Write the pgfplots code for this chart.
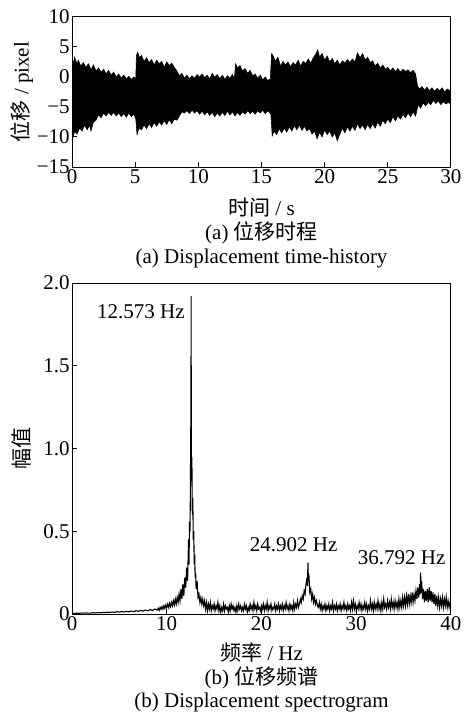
\documentclass[border=0pt]{standalone}
\usepackage{fontspec}
\setmainfont{Liberation Serif}
\newfontfamily\cjk{Noto Sans CJK SC}
\usepackage{pgfplots}
\pgfplotsset{compat=1.18}
\pgfplotstableread{
t y
0 3.5
0.1 2.0
0.2 3.3
0.4 2.2
0.5 2.8
0.7 1.8
0.9 2.4
1.1 1.6
1.3 2.2
1.5 1.2
1.7 2.0
1.9 1.0
2.1 1.5
2.3 0.8
2.5 1.3
2.7 0.5
2.9 1.1
3.1 0.3
3.3 0.8
3.5 0.0
3.7 0.5
3.9 -0.2
4.1 0.3
4.3 -0.3
4.5 0.1
4.7 -0.4
4.9 0.0
5.05 -0.3
5.1 3.6
5.2 4.1
5.35 3.2
5.5 3.6
5.7 2.6
5.9 3.2
6.1 2.4
6.3 2.9
6.5 2.0
6.7 2.8
6.9 2.2
7.1 2.6
7.3 1.6
7.5 2.5
7.7 1.9
7.9 2.3
8.1 1.6
8.3 1.0
8.5 0.2
8.7 0.6
8.9 -0.2
9.1 0.3
9.3 -0.3
9.5 0.2
9.7 -0.2
9.9 0.4
10.1 0.0
10.3 0.5
10.5 -0.1
10.7 0.3
10.9 -0.3
11.1 0.6
11.3 0.0
11.5 0.4
11.7 -0.3
11.9 0.3
12.1 -0.4
12.3 0.2
12.5 -0.2
12.7 0.4
12.85 -0.3
12.95 2.2
13.1 1.5
13.3 1.9
13.5 1.0
13.7 1.4
13.9 0.6
14.1 1.1
14.3 0.2
14.5 0.5
14.7 -0.2
14.9 0.3
15.1 -0.5
15.3 0.0
15.5 -0.6
15.7 -0.3
15.8 3.9
15.95 3.4
16.1 2.6
16.3 3.3
16.5 1.8
16.7 2.6
16.9 2.0
17.1 2.5
17.3 1.7
17.5 2.4
17.7 2.0
17.9 2.8
18.1 1.8
18.3 2.6
18.5 2.2
18.7 3.0
18.9 2.3
19.1 3.2
19.3 3.8
19.45 4.5
19.6 3.3
19.8 3.9
20.0 2.8
20.2 3.5
20.4 2.5
20.6 3.1
20.8 2.2
21.0 2.8
21.2 2.0
21.4 2.7
21.6 2.3
21.8 2.9
22.0 2.4
22.2 3.0
22.4 2.5
22.6 4.0
22.8 3.2
23.0 3.9
23.2 2.8
23.4 3.3
23.6 2.4
23.8 2.7
24.0 1.8
24.2 2.3
24.4 1.5
24.6 2.0
24.8 1.3
25.0 1.6
25.2 1.0
25.4 1.5
25.6 0.9
25.8 1.4
26.0 0.8
26.2 1.3
26.4 0.9
26.6 1.2
26.8 0.7
27.0 1.1
27.2 0.5
27.35 -1.5
27.5 -2.0
27.7 -1.6
27.9 -2.2
28.1 -1.7
28.3 -2.3
28.5 -1.8
28.7 -2.4
28.9 -1.9
29.1 -2.3
29.3 -1.8
29.5 -2.5
29.7 -2.0
29.9 -2.3
30 -2.6
30 -4.6
29.8 -4.2
29.6 -4.5
29.4 -4.1
29.2 -4.6
29.0 -4.0
28.8 -4.4
28.6 -3.9
28.4 -4.6
28.2 -4.2
28.0 -4.8
27.8 -4.3
27.6 -5.2
27.4 -4.6
27.2 -6.5
27.0 -5.8
26.8 -6.6
26.6 -6.0
26.4 -6.8
26.2 -6.2
26.0 -7.0
25.8 -6.5
25.6 -7.3
25.4 -6.6
25.2 -7.6
25.0 -7.0
24.8 -7.8
24.6 -7.2
24.4 -8.2
24.2 -7.5
24.0 -8.5
23.8 -7.8
23.6 -8.6
23.4 -7.9
23.2 -8.8
23.0 -8.0
22.8 -8.6
22.6 -7.8
22.4 -8.9
22.2 -8.2
22.0 -9.0
21.8 -8.3
21.6 -9.3
21.4 -8.5
21.2 -9.5
21.0 -10.6
20.8 -9.3
20.6 -10.0
20.4 -9.0
20.2 -9.6
20.0 -8.8
19.8 -10.0
19.6 -9.2
19.4 -10.3
19.2 -9.0
19.0 -9.5
18.8 -8.6
18.6 -9.0
18.4 -8.2
18.2 -8.9
18.0 -8.0
17.8 -8.8
17.6 -8.1
17.4 -9.0
17.2 -8.3
17.0 -9.2
16.8 -8.5
16.6 -9.3
16.4 -8.6
16.2 -9.6
16.0 -9.0
15.85 -9.8
15.75 -6.2
15.5 -5.6
15.3 -6.1
15.1 -5.5
14.9 -6.0
14.7 -5.6
14.5 -6.2
14.3 -5.7
14.1 -6.1
13.9 -5.6
13.7 -6.2
13.5 -5.8
13.3 -6.4
13.1 -5.9
12.9 -6.5
12.7 -5.8
12.5 -6.3
12.3 -5.7
12.1 -6.4
11.9 -5.9
11.7 -6.5
11.5 -6.0
11.3 -6.6
11.1 -5.9
10.9 -6.4
10.7 -5.8
10.5 -6.3
10.3 -5.7
10.1 -6.2
9.9 -5.6
9.7 -6.0
9.5 -5.5
9.3 -6.1
9.1 -5.6
8.9 -6.0
8.7 -5.8
8.5 -6.5
8.3 -7.2
8.1 -7.0
7.9 -7.8
7.7 -7.1
7.5 -7.9
7.3 -7.3
7.1 -8.0
6.9 -7.5
6.7 -8.2
6.5 -7.6
6.3 -8.4
6.1 -7.8
5.9 -8.6
5.7 -8.0
5.5 -8.8
5.3 -8.5
5.15 -9.6
5.05 -7.0
4.9 -6.2
4.7 -6.6
4.5 -6.0
4.3 -6.7
4.1 -6.1
3.9 -6.6
3.7 -6.0
3.5 -6.5
3.3 -5.9
3.1 -6.4
2.9 -5.9
2.7 -6.5
2.5 -6.0
2.3 -6.8
2.1 -6.3
1.9 -7.2
1.7 -7.5
1.5 -9.0
1.4 -8.0
1.2 -8.8
1.0 -8.0
0.8 -9.0
0.6 -8.5
0.4 -9.5
0.2 -9.0
0.1 -10.0
0 -9.8
}\disptable
\pgfplotstableread{
f a
0 0.004
0.25 0.003
0.5 0.005
0.75 0.004
1 0.006
1.25 0.005
1.5 0.007
1.75 0.005
2 0.006
2.25 0.008
2.5 0.006
2.75 0.009
3 0.007
3.25 0.01
3.5 0.008
3.75 0.011
4 0.009
4.25 0.012
4.5 0.01
4.75 0.014
5 0.011
5.25 0.015
5.5 0.012
5.75 0.016
6 0.013
6.25 0.018
6.5 0.014
6.75 0.02
7 0.016
7.25 0.022
7.5 0.017
7.75 0.024
8 0.019
8.25 0.027
8.5 0.021
8.75 0.03
9 0.024
9.1 0.035
9.2 0.022
9.3 0.04
9.4 0.028
9.5 0.045
9.6 0.03
9.7 0.05
9.8 0.033
9.9 0.055
10.0 0.038
10.1 0.06
10.2 0.04
10.3 0.065
10.4 0.045
10.5 0.07
10.6 0.05
10.7 0.08
10.8 0.055
10.9 0.09
11.0 0.06
11.1 0.1
11.2 0.07
11.3 0.12
11.4 0.08
11.5 0.15
11.6 0.09
11.7 0.18
11.8 0.11
11.9 0.22
12.0 0.16
12.1 0.28
12.2 0.2
12.3 0.45
12.35 0.3
12.4 0.56
12.45 0.5
12.5 0.75
12.53 1.13
12.55 0.9
12.573 1.92
12.59 1.0
12.61 0.8
12.65 0.95
12.7 0.6
12.75 0.7
12.8 0.45
12.85 0.5
12.9 0.3
12.95 0.36
13.0 0.22
13.05 0.25
13.1 0.15
13.2 0.2
13.3 0.1
13.4 0.12
13.5 0.07
13.6 0.1
13.7 0.06
13.8 0.09
13.9 0.05
14.0 0.08
14.1 0.03
14.2 0.07
14.3 0.02
14.4 0.06
14.5 0.03
14.6 0.07
14.7 0.02
14.8 0.05
14.9 0.03
15.0 0.06
15.1 0.02
15.2 0.05
15.3 0.03
15.4 0.07
15.5 0.02
15.6 0.05
15.7 0.01
15.8 0.04
15.9 0.02
16.0 0.06
16.1 0.02
16.2 0.05
16.3 0.03
16.4 0.04
16.5 0.01
16.6 0.05
16.7 0.02
16.8 0.06
16.9 0.03
17.0 0.05
17.1 0.02
17.2 0.04
17.3 0.01
17.4 0.05
17.5 0.02
17.6 0.06
17.7 0.03
17.8 0.05
17.9 0.02
18.0 0.04
18.1 0.02
18.2 0.06
18.3 0.03
18.4 0.05
18.5 0.01
18.6 0.04
18.7 0.02
18.8 0.06
18.9 0.03
19.0 0.05
19.1 0.02
19.2 0.07
19.3 0.03
19.4 0.05
19.5 0.02
19.6 0.06
19.7 0.03
19.8 0.04
19.9 0.02
20.0 0.05
20.1 0.03
20.2 0.06
20.3 0.02
20.4 0.05
20.5 0.03
20.6 0.07
20.7 0.02
20.8 0.05
20.9 0.03
21.0 0.06
21.1 0.02
21.2 0.04
21.3 0.03
21.4 0.06
21.5 0.02
21.6 0.05
21.7 0.03
21.8 0.06
21.9 0.02
22.0 0.05
22.1 0.03
22.2 0.06
22.3 0.02
22.4 0.05
22.5 0.03
22.6 0.07
22.7 0.03
22.8 0.05
22.9 0.02
23.0 0.06
23.1 0.03
23.2 0.05
23.3 0.02
23.4 0.07
23.5 0.03
23.6 0.06
23.7 0.04
23.8 0.08
23.9 0.04
24.0 0.06
24.1 0.09
24.2 0.07
24.3 0.11
24.4 0.09
24.5 0.14
24.6 0.12
24.7 0.18
24.8 0.22
24.85 0.17
24.902 0.31
24.95 0.2
25.0 0.24
25.1 0.13
25.2 0.15
25.3 0.09
25.4 0.12
25.5 0.07
25.6 0.1
25.7 0.06
25.8 0.08
25.9 0.05
26.0 0.04
26.1 0.07
26.2 0.03
26.3 0.06
26.4 0.02
26.5 0.05
26.6 0.03
26.7 0.06
26.8 0.02
26.9 0.05
27.0 0.03
27.1 0.06
27.2 0.02
27.3 0.05
27.4 0.03
27.5 0.07
27.6 0.02
27.7 0.05
27.8 0.03
27.9 0.06
28.0 0.02
28.1 0.05
28.2 0.03
28.3 0.06
28.4 0.02
28.5 0.05
28.6 0.03
28.7 0.07
28.8 0.03
28.9 0.05
29.0 0.02
29.1 0.06
29.2 0.03
29.3 0.05
29.4 0.02
29.5 0.07
29.6 0.03
29.7 0.08
29.8 0.03
29.9 0.06
30.0 0.02
30.1 0.05
30.2 0.03
30.3 0.07
30.4 0.03
30.5 0.06
30.6 0.02
30.7 0.05
30.8 0.03
30.9 0.07
31.0 0.03
31.1 0.06
31.2 0.02
31.3 0.05
31.4 0.03
31.5 0.08
31.6 0.03
31.7 0.06
31.8 0.02
31.9 0.07
32.0 0.03
32.1 0.06
32.2 0.03
32.3 0.08
32.4 0.03
32.5 0.06
32.6 0.02
32.7 0.07
32.8 0.03
32.9 0.09
33.0 0.04
33.1 0.06
33.2 0.03
33.3 0.08
33.4 0.04
33.5 0.07
33.6 0.03
33.7 0.09
33.8 0.04
33.9 0.07
34.0 0.03
34.1 0.08
34.2 0.04
34.3 0.07
34.4 0.03
34.5 0.09
34.6 0.04
34.7 0.08
34.8 0.04
34.9 0.1
35.0 0.05
35.1 0.1
35.2 0.05
35.3 0.11
35.4 0.06
35.5 0.12
35.6 0.06
35.7 0.11
35.8 0.07
35.9 0.13
36.0 0.07
36.1 0.12
36.2 0.08
36.3 0.14
36.4 0.09
36.5 0.16
36.6 0.1
36.7 0.18
36.75 0.12
36.792 0.25
36.85 0.13
36.9 0.2
37.0 0.09
37.1 0.15
37.2 0.07
37.3 0.14
37.4 0.08
37.5 0.15
37.6 0.07
37.7 0.16
37.8 0.08
37.9 0.14
38.0 0.07
38.1 0.13
38.2 0.06
38.3 0.12
38.4 0.05
38.5 0.11
38.6 0.05
38.7 0.1
38.8 0.04
38.9 0.09
39.0 0.05
39.1 0.1
39.2 0.04
39.3 0.09
39.4 0.05
39.5 0.1
39.6 0.04
39.7 0.08
39.8 0.04
39.9 0.07
40.0 0.03
}\spectable
\begin{document}
\begin{tikzpicture}[font=\fontsize{10.5}{12}\selectfont]
\useasboundingbox (0,0) rectangle (231.5pt,357pt);
\pgfplotsset{
  myax/.style={
    scale only axis, anchor=south west,
    width=189.5pt,
    axis line style={line width=0.5pt},
    tick style={line width=0.5pt, black},
    major tick length=2.5pt,
    tick align=inside, xtick pos=bottom, ytick pos=left,
    tick label style={font=\fontsize{10.5}{12}\selectfont},
    xticklabel style={inner sep=1pt},
    yticklabel style={inner sep=1pt},
    /pgf/number format/assume math mode=true,
    clip=true,
  }
}
\begin{axis}[myax, at={(36pt,273.5pt)}, height=75pt,
  xmin=0, xmax=30, ymin=-15, ymax=10,
  xtick={0,5,10,15,20,25,30},
  ytick={-15,-10,-5,0,5,10},
  yticklabels={−15,−10,−5,0,5,10}]
\addplot[fill=black, draw=black, line width=0.3pt] table[x=t, y=y] {\disptable};
\end{axis}
\begin{axis}[myax, at={(36pt,50pt)}, height=165.5pt,
  xmin=0, xmax=40, ymin=0, ymax=2,
  xtick={0,10,20,30,40},
  ytick={0,0.5,1,1.5,2},
  yticklabels={0,0.5,1.0,1.5,2.0}]
\addplot[black, line width=0.55pt] table[x=f, y=a] {\spectable};
\node[anchor=east, inner sep=1pt] at (axis cs:12.15,1.825) {12.573 Hz};
\node[inner sep=1pt] at (axis cs:23.4,0.417) {24.902 Hz};
\node[inner sep=1pt] at (axis cs:34.8,0.338) {36.792 Hz};
\end{axis}
\node[rotate=90] at (11pt,311pt) {{\cjk 位移} / pixel};
\node[rotate=90] at (11pt,132.75pt) {\cjk 幅值};
\node at (130.75pt,253pt) {{\cjk 时间} / s};
\node at (130.75pt,240.5pt) {(a) {\cjk 位移时程}};
\node at (130.75pt,228pt) {(a) Displacement time-history};
\node at (130.75pt,31pt) {{\cjk 频率} / Hz};
\node at (130.75pt,18pt) {(b) {\cjk 位移频谱}};
\node at (130.75pt,6pt) {(b) Displacement spectrogram};
\end{tikzpicture}
\end{document}
